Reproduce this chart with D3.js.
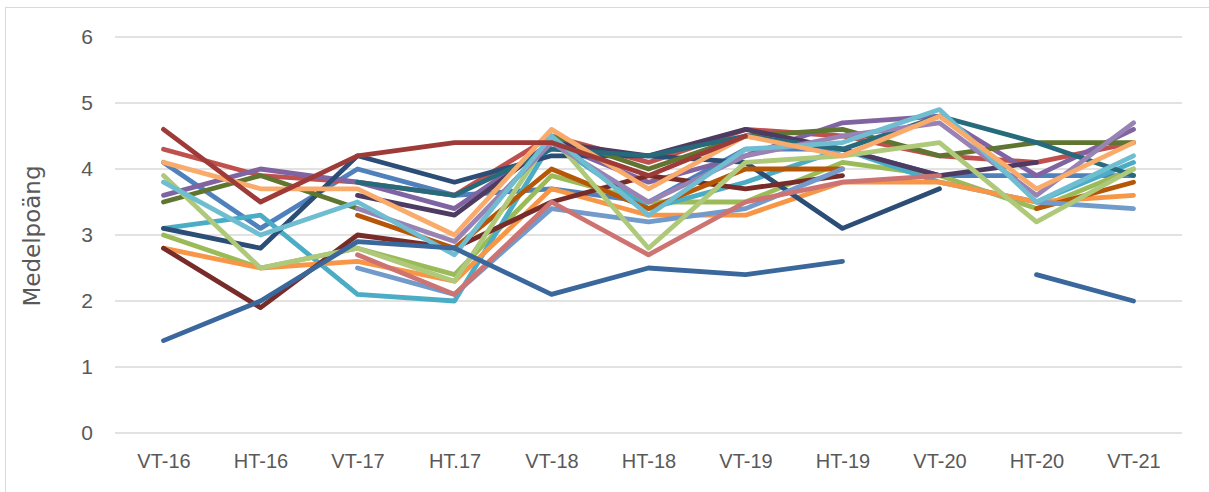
<!DOCTYPE html>
<html>
<head>
<meta charset="utf-8">
<script src="https://cdn.jsdelivr.net/npm/d3@7"></script>
<style>
  body { margin: 0; background: #fff; }
  svg text { font-family: "Liberation Sans", Arial, sans-serif; fill: #595959; }
</style>
</head>
<body>
<div id="chart"></div>
<script>
// terms
const terms = ["VT-16", "HT-16", "VT-17", "HT.17", "VT-18", "HT-18", "VT-19", "HT-19", "VT-20", "HT-20", "VT-21"];
const yTicks = [0, 1, 2, 3, 4, 5, 6];

// one array per series (null = no value), in Excel series order
const s01 = [4.1, 3.1, 4.0, 3.6, 3.7, 3.5, 4.3, 4.3, 3.9, 3.9, 3.9];
const s02 = [4.3, 3.9, 3.8, 3.6, 4.5, 4.1, 4.6, 4.5, 4.2, 4.1, 4.4];
const s03 = [3.0, 2.5, 2.8, 2.4, 3.9, 3.5, 3.5, 4.1, 3.9, 3.4, 4.0];
const s04 = [3.6, 4.0, 3.8, 3.4, 4.4, 3.8, 4.2, 4.7, 4.8, 3.9, 4.6];
const s05 = [3.1, 3.3, 2.1, 2.0, 4.4, 3.4, 3.8, 4.3, 3.8, 3.5, 4.1];
const s06 = [2.8, 2.5, 2.6, 2.3, 3.7, 3.3, 3.3, 3.8, 3.8, 3.5, 3.6];
const s07 = [3.1, 2.8, 4.2, 3.8, 4.2, 4.2, 4.1, 3.1, 3.7, null, null];
const s08 = [2.8, 1.9, 3.0, 2.8, 3.5, 3.9, 3.7, 3.9, null, null, null];
const s09 = [3.5, 3.9, 3.4, null, 4.5, 4.0, 4.5, 4.6, 4.2, 4.4, 4.4];
const s10 = [null, null, 3.6, 3.3, 4.4, 4.2, 4.6, 4.3, 3.9, 4.1, null];
const s11 = [null, null, 3.8, 3.6, 4.3, 4.2, 4.5, 4.3, 4.8, 4.4, 3.9];
const s12 = [null, null, 3.3, 2.8, 4.0, 3.4, 4.0, 4.0, null, 3.4, 3.8];
const s13 = [null, null, 2.5, 2.1, 3.4, 3.2, 3.4, 4.0, null, 3.5, 3.4];
const s14 = [null, null, 2.7, 2.1, 3.5, 2.7, 3.5, 3.8, 3.9, null, null];
const s15 = [3.9, 2.5, 2.8, 2.3, 4.5, 2.8, 4.1, 4.2, 4.4, 3.2, 4.0];
const s16 = [null, null, 3.4, 2.9, 4.4, 3.5, 4.2, 4.5, 4.7, 3.6, 4.7];
const s17 = [3.8, 3.0, 3.5, 2.7, 4.5, 3.3, 4.3, 4.4, 4.9, 3.5, 4.2];
const s18 = [4.1, 3.7, 3.7, 3.0, 4.6, 3.7, 4.5, 4.2, 4.8, 3.7, 4.4];
const s19 = [1.4, 2.0, 2.9, 2.8, 2.1, 2.5, 2.4, 2.6, null, 2.4, 2.0];
const s20 = [4.6, 3.5, 4.2, 4.4, 4.4, 3.9, 4.5, null, null, null, null];

const seriesValues = [s01, s02, s03, s04, s05, s06, s07, s08, s09, s10,
                      s11, s12, s13, s14, s15, s16, s17, s18, s19, s20];
const seriesColors = ["#4F81BD", "#C0504D", "#9BBB59", "#8064A2", "#4BACC6", "#F79646",
                      "#2C4D75", "#772C2A", "#5F7530", "#4D3B62", "#276A7C", "#B65708",
                      "#729ACA", "#CD7371", "#AFC97A", "#9983B5", "#6FBDD1", "#F9AB6B",
                      "#3A679C", "#9E3B38"];

const W = 1209, H = 492;
const margin = { top: 37, right: 27, bottom: 59, left: 115 };
const width = W - margin.left - margin.right,
      height = H - margin.top - margin.bottom;

const svg = d3.select("#chart").append("svg")
    .attr("width", W)
    .attr("height", H);

// chart border
svg.append("rect")
    .attr("x", 5.5).attr("y", 7.5)
    .attr("width", W + 20).attr("height", H + 20)
    .attr("fill", "none")
    .attr("stroke", "#D9D9D9")
    .attr("stroke-width", 1);

const g = svg.append("g")
    .attr("transform", `translate(${margin.left},${margin.top})`);

const x = d3.scalePoint()
    .domain(terms)
    .range([0, width])
    .padding(0.5);

const y = d3.scaleLinear()
    .domain([0, 6])
    .range([height, 0]);

// gridlines
g.append("g")
    .selectAll("line")
    .data(yTicks)
    .enter()
    .append("line")
    .attr("x1", 0).attr("x2", width)
    .attr("y1", d => y(d)).attr("y2", d => y(d))
    .attr("stroke", "#D9D9D9")
    .attr("stroke-width", 1.5);

// y axis labels
const yAxis = g.append("g")
    .call(d3.axisLeft(y).tickValues(yTicks).tickFormat(d3.format("d")).tickSize(0).tickPadding(22));
yAxis.select(".domain").remove();
yAxis.selectAll("text")
    .style("font-size", "21px")
    .attr("fill", "#595959");

// x axis labels
const xAxis = g.append("g")
    .attr("transform", `translate(0,${height})`)
    .call(d3.axisBottom(x).tickSize(0).tickPadding(21));
xAxis.select(".domain").remove();
xAxis.selectAll("text")
    .style("font-size", "20px")
    .attr("fill", "#595959");

// axis title
svg.append("text")
    .attr("transform", "rotate(-90)")
    .attr("x", -236)
    .attr("y", 40)
    .attr("text-anchor", "middle")
    .style("font-family", "'DejaVu Sans', sans-serif")
    .style("font-size", "23px")
    .text("Medelpoäng");

// lines
const line = d3.line()
    .defined(d => d != null)
    .x((d, i) => x(terms[i]))
    .y(d => y(d));

g.selectAll(".series")
    .data(seriesValues)
    .enter()
    .append("path")
    .attr("class", "series")
    .attr("d", d => line(d))
    .attr("fill", "none")
    .attr("stroke", (d, i) => seriesColors[i])
    .attr("stroke-width", 4.8)
    .attr("stroke-linecap", "round")
    .attr("stroke-linejoin", "round");
</script>
</body>
</html>
